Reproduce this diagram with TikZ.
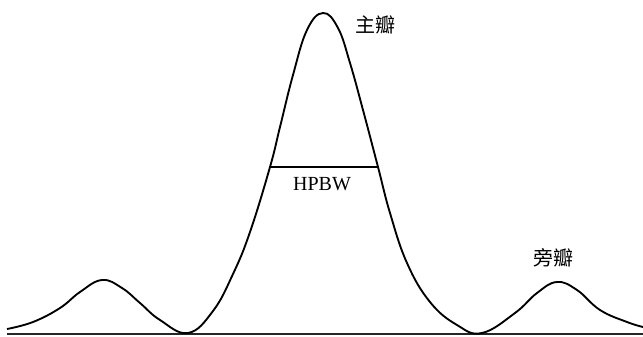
\documentclass[tikz,border=0pt]{standalone}
\usepackage{fontspec}
\setmainfont{Liberation Serif}
\newfontfamily\cjk{Noto Sans CJK SC}
\begin{document}
\begin{tikzpicture}[x=0.75pt,y=-0.75pt,
  curve/.style={line width=1.4pt,line join=round},
  axisline/.style={line width=1.6pt,black!85},
  lbl/.style={inner sep=0pt,font=\fontsize{15}{18}\selectfont}]
\useasboundingbox (0,0) rectangle (643,336);
\coordinate (b0) at (7,334);
\coordinate (b1) at (643,334);
\draw[axisline] (b0) -- (b1);
\draw[curve] plot[smooth,tension=0.7] coordinates {
 (7,329) (33,322) (60,308) (80,292) (102,280) (122,288) (140,303) (160,320)
 (188,333) (213,311) (233,274) (250,232) (270,167) (280,127) (293,75) (307,30)
 (323,13) (338,28) (350,63) (363,110) (378,167) (390,213) (407,263) (430,302)
 (457,325) (482,333) (515,313) (537,293) (557,282) (577,290) (600,310) (627,322) (643,327)};
\coordinate (h0) at (271,167);
\coordinate (h1) at (378,167);
\draw[line width=1.4pt] (h0) -- (h1);
\node[lbl] (hp) at (322,184) {HPBW};
\node[lbl] (ml) at (375,25) {\cjk 主瓣};
\node[lbl] (sl) at (553,258) {\cjk 旁瓣};
\end{tikzpicture}
\end{document}
